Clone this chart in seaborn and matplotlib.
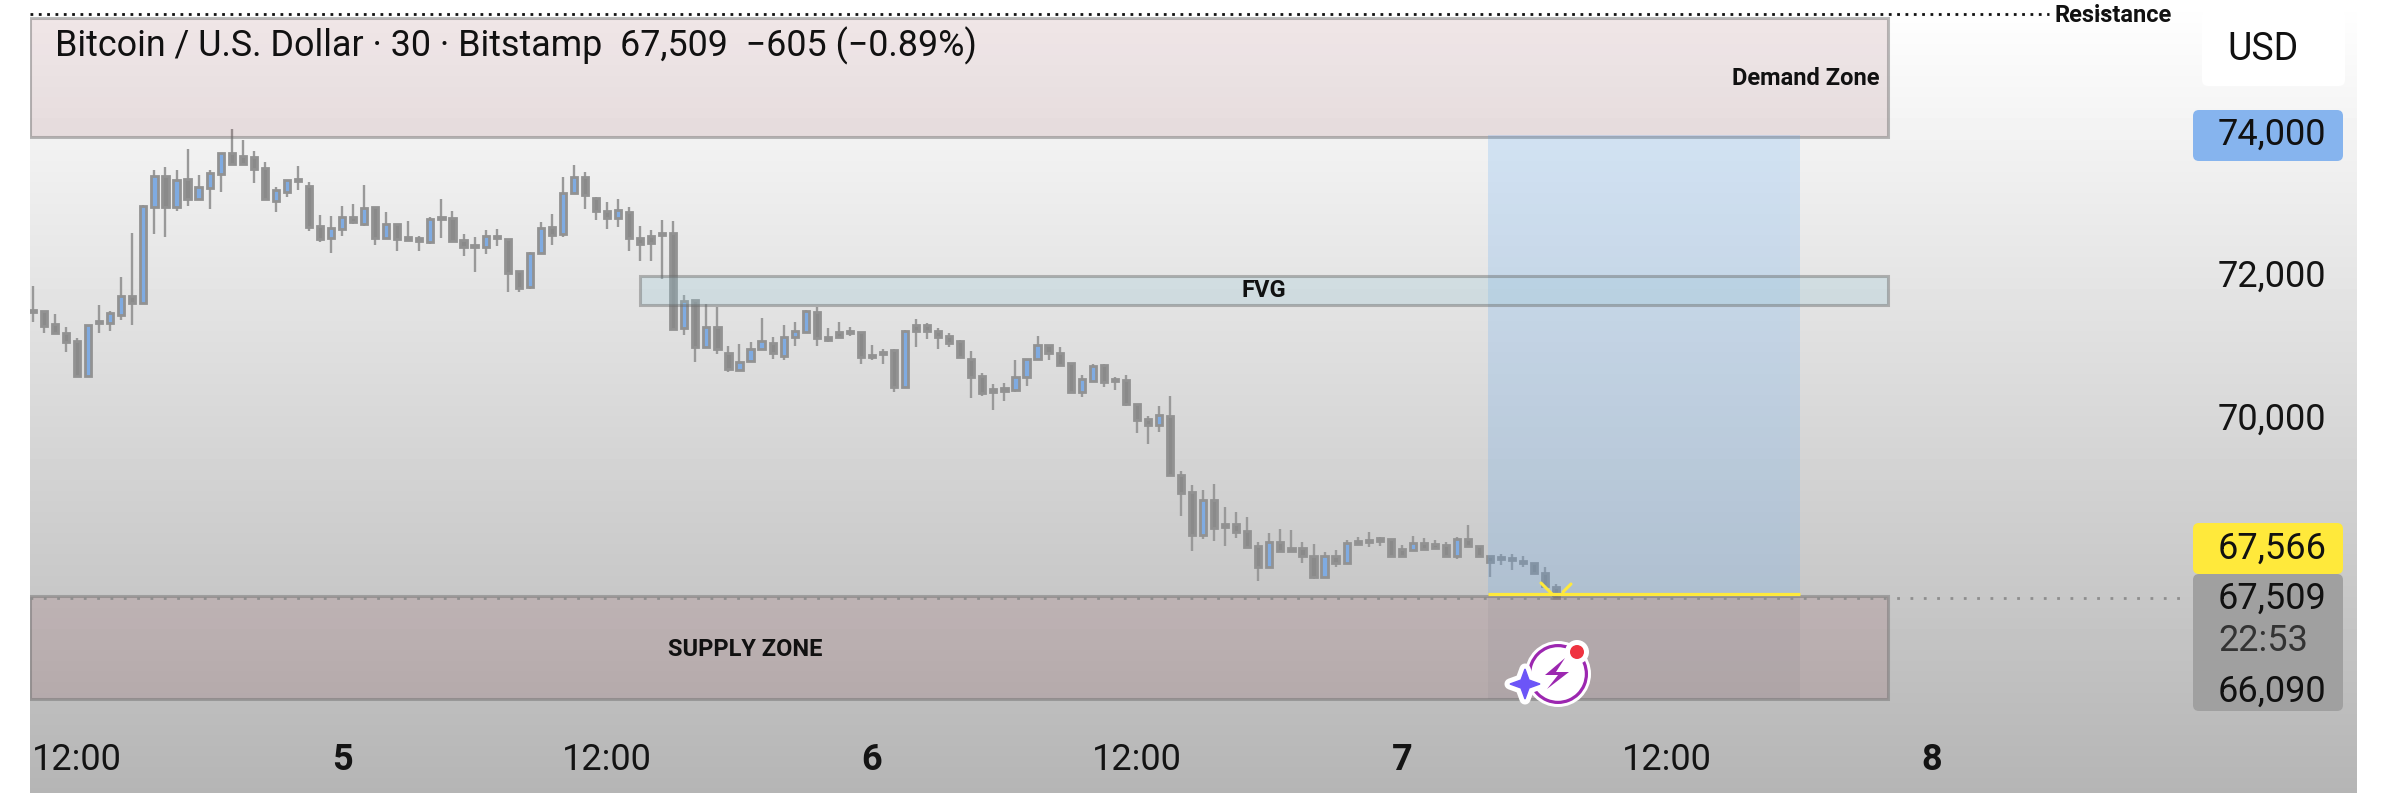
import numpy as np
import pandas as pd
import matplotlib
matplotlib.use("Agg")
import matplotlib.pyplot as plt
from matplotlib.patches import Rectangle, FancyBboxPatch, Circle, Polygon, Wedge
from matplotlib.transforms import ScaledTranslation
import seaborn as sns

# 30 min BTC/USD candles
opens = [71553, 71543, 71352, 71225, 71113, 70627, 71394, 71366, 71478, 71754, 71646, 73002, 73427,
         73002, 73385, 73105, 73268, 73465, 73750, 73708, 73694, 73540, 73086, 73212, 73385, 73287,
         72726, 72567, 72693, 72857, 72759, 73002, 72567, 72754, 72572, 72558, 72506, 72852, 72838,
         72530, 72460, 72432, 72586, 72548, 72099, 71870, 72347, 72712, 72614, 73189, 73413, 73128,
         72936, 72838, 72922, 72558, 72586, 72637, 72628, 71295, 71688, 71029, 71319, 70954, 70716,
         70833, 71001, 71094, 70912, 71169, 71239, 71529, 71169, 71239, 71258, 71239, 70926, 70968,
         70991, 70468, 71337, 71342, 71258, 71183, 71113, 70870, 70627, 70440, 70459, 70431, 70608,
         70870, 71057, 70945, 70814, 70407, 70562, 70781, 70585, 70571, 70230, 70024, 69935, 70061,
         69234, 68996, 68402, 68883, 68547, 68547, 68449, 68238, 67953, 68294, 68210, 68210, 68107,
         67813, 68098, 68009, 68308, 68322, 68350, 68336, 68196, 68191, 68285, 68266, 68252, 68107,
         68336, 68238, 68098, 68089, 68070, 68028, 68000, 67859, 67672]
highs = [71889, 71543, 71497, 71310, 71160, 71347, 71623, 71539, 72011, 72628, 73025, 73516, 73558,
         73516, 73806, 73446, 73516, 73750, 74091, 73937, 73783, 73628, 73273, 73376, 73572, 73348,
         72885, 72871, 73011, 73039, 73306, 73002, 72927, 72754, 72801, 72591, 72857, 73110, 72941,
         72614, 72577, 72675, 72689, 72548, 72104, 72371, 72782, 72899, 73418, 73586, 73488, 73133,
         73063, 73109, 72997, 72726, 72674, 72815, 72801, 71763, 71693, 71637, 71599, 71048, 71076,
         71104, 71436, 71174, 71337, 71380, 71552, 71590, 71295, 71380, 71309, 71239, 71057, 71001,
         71010, 71272, 71422, 71375, 71295, 71225, 71127, 70973, 70664, 70510, 70524, 70851, 70870,
         71188, 71067, 71034, 70814, 70641, 70795, 70795, 70618, 70641, 70234, 70061, 70206, 70347,
         69290, 69098, 69028, 69112, 68790, 68720, 68645, 68294, 68420, 68477, 68467, 68294, 68271,
         68154, 68182, 68327, 68364, 68435, 68364, 68341, 68257, 68383, 68355, 68327, 68294, 68364,
         68537, 68248, 68103, 68131, 68131, 68098, 68009, 67953, 67705]
lows = [71389, 71225, 71225, 70968, 70632, 70618, 71235, 71263, 71412, 71342, 71646, 72619, 72581,
        72946, 73011, 73105, 72969, 73212, 73600, 73596, 73339, 73105, 72932, 73138, 73236, 72665,
        72506, 72352, 72595, 72759, 72731, 72464, 72567, 72380, 72520, 72380, 72483, 72567, 72525,
        72310, 72086, 72343, 72450, 71810, 71810, 71842, 72347, 72464, 72572, 73189, 72969, 72815,
        72689, 72721, 72385, 72244, 72244, 71992, 71291, 71207, 70828, 71029, 70940, 70688, 70692,
        70833, 71001, 70870, 70856, 71048, 71239, 71052, 71108, 71169, 71193, 70800, 70856, 70800,
        70407, 70468, 71038, 71150, 71010, 71038, 70889, 70314, 70351, 70155, 70276, 70407, 70487,
        70870, 70851, 70772, 70403, 70333, 70552, 70473, 70431, 70211, 69828, 69673, 69842, 69234,
        68664, 68177, 68346, 68318, 68243, 68355, 68224, 67757, 67953, 68173, 68154, 68009, 67775,
        67813, 67944, 68000, 68257, 68233, 68248, 68103, 68107, 68187, 68196, 68201, 68103, 68065,
        68233, 68103, 67808, 67976, 67906, 67953, 67855, 67672, 67500]
closes = [71520, 71328, 71225, 71109, 70632, 71338, 71366, 71511, 71754, 71646, 73011, 73427, 73002,
          73376, 73105, 73273, 73469, 73750, 73600, 73596, 73535, 73105, 73236, 73371, 73357, 72721,
          72553, 72698, 72862, 72792, 72979, 72567, 72754, 72544, 72539, 72525, 72834, 72824, 72525,
          72441, 72432, 72586, 72558, 72076, 71866, 72352, 72707, 72609, 73189, 73413, 73161, 72936,
          72838, 72950, 72558, 72483, 72487, 72609, 71291, 71674, 71029, 71319, 71001, 70720, 70828,
          71001, 71122, 70954, 71178, 71263, 71538, 71155, 71132, 71169, 71225, 70898, 70889, 70931,
          70468, 71253, 71253, 71253, 71178, 71094, 70889, 70617, 70393, 70398, 70421, 70608, 70870,
          71062, 70954, 70781, 70407, 70580, 70767, 70548, 70552, 70234, 70010, 69940, 70075, 69234,
          68991, 68402, 68883, 68500, 68514, 68444, 68233, 67953, 68294, 68173, 68177, 68107, 67813,
          68107, 68009, 68280, 68271, 68294, 68318, 68107, 68107, 68290, 68201, 68219, 68107, 68341,
          68238, 68107, 68023, 68056, 68042, 68000, 67859, 67682, 67509]

# axis labels, one candle every 30 min so 48 per day
date_ticks = [4, 28, 52, 76, 100, 124, 148, 172]
date_labels = ["12:00", "5", "12:00", "6", "12:00", "7", "12:00", "8"]
price_ticks = [72000, 70000]
price_labels = ["72,000", "70,000"]

# levels drawn on the chart
resistance = 75703
demand_top, demand_bottom = 75650, 73980
fvg_top, fvg_bottom = 72030, 71623
supply_top, supply_bottom = 67540, 66090
entry_price = 67566
last_price = 67509
target_price = 74000

W, H = 2388, 796
FONT = "Roboto"

sns.set_theme(style="white")
plt.rcParams["font.family"] = [FONT, "DejaVu Sans"]

fig = plt.figure(figsize=(W / 100, H / 100), dpi=100, facecolor="white")


def px_axes(left, top, right, bottom):
    return fig.add_axes([left / W, 1 - bottom / H, (right - left) / W, (bottom - top) / H])


# grey background fade
bg = px_axes(30, 0, 2357, 793)
bg.imshow(np.linspace(255, 181, 256).reshape(-1, 1), cmap="gray", vmin=0, vmax=255,
          aspect="auto", interpolation="bilinear")
bg.axis("off")

# price chart, one x unit is one candle
ax = px_axes(30, 0, 2190, 730)
ax.patch.set_alpha(0)
ax.set_xlim(-0.272, 195.4)
ax.set_ylim(65662, 75900)

df = pd.DataFrame({"idx": range(len(opens)), "open": opens, "high": highs, "low": lows, "close": closes})
wicks = df.melt(id_vars="idx", value_vars=["high", "low"], value_name="price")
sns.lineplot(data=wicks, x="idx", y="price", units="idx", estimator=None, sort=False,
             color="#999999", lw=1.7, solid_capstyle="butt", legend=False, ax=ax, zorder=3)

colors = ["#7fabe2" if c >= o else "#8a8a8a" for o, c in zip(df["open"], df["close"])]
body_low = df[["open", "close"]].min(axis=1)
body_high = df[["open", "close"]].max(axis=1)
ax.bar(df["idx"], body_high - body_low, bottom=body_low, width=0.56, color=colors,
       edgecolor="#929292", linewidth=2.0, zorder=3)

# zones, alpha fill goes over the candles
zone_right = 168.0
blue_left, blue_right = 131.8, 160.05
fvg_left = 55.0
edge = (0.42, 0.42, 0.42, 0.45)


def zone(x0, x1, y0, y1, fill, line=edge, lw=2.2, z=4):
    ax.add_patch(Rectangle((x0, y0), x1 - x0, y1 - y0, facecolor=fill, edgecolor=line, linewidth=lw, zorder=z))


zone(-0.272, zone_right, demand_bottom, demand_top, (0.50, 0.16, 0.20, 0.11))
zone(-0.272, zone_right, supply_bottom, supply_top, (0.50, 0.16, 0.20, 0.13))
zone(blue_left, blue_right, entry_price, target_price, (0.31, 0.63, 0.96, 0.20), line="none", lw=0)
zone(blue_left, blue_right, supply_bottom, entry_price, (0.45, 0.45, 0.50, 0.10), line="none", lw=0)
zone(fvg_left, zone_right, fvg_bottom, fvg_top, (0.59, 0.78, 0.84, 0.25))

sns.lineplot(x=[blue_left, blue_right], y=[entry_price, entry_price], color="#ffe93b", lw=2.3,
             solid_capstyle="butt", ax=ax, zorder=6)
ax.hlines(last_price, -0.272, 195.4, color="#8e8e8e", lw=2.0, linestyles=(0, (1, 3.8)), zorder=5)
ax.hlines(resistance, -0.272, 182.6, color="#111111", lw=2.0, linestyles=(0, (1, 2)), zorder=5)
ax.hlines(resistance, 186.9, 188.0, color="#111111", lw=2.0, linestyles=(0, (1, 2)), zorder=5)

ax.text(zone_right - 0.7, 74800, "Demand Zone", ha="right", va="center", fontsize=17, fontweight="bold",
        color="#111111", zorder=7)
ax.text(111.5, 71830, "FVG", ha="center", va="center", fontsize=17, fontweight="bold", color="#111111", zorder=7)
ax.text(64.5, 66795, "SUPPLY ZONE", ha="center", va="center", fontsize=17, fontweight="bold",
        color="#111111", zorder=7)

# axes ticks
ax.set_xticks(date_ticks)
ax.set_xticklabels(date_labels)
ax.yaxis.tick_right()
ax.set_yticks(price_ticks)
ax.set_yticklabels(price_labels)
ax.tick_params(axis="x", length=0, pad=9, labelsize=26, labelcolor="#141414")
ax.tick_params(axis="y", length=0, pad=20, labelsize=26, labelcolor="#141414")
for label in ax.get_xticklabels():
    if ":" not in label.get_text():
        label.set_fontweight("bold")
for label in ax.get_yticklabels():
    label.set_transform(label.get_transform() + ScaledTranslation(0, 5 / 100, fig.dpi_scale_trans))
ax.set_xlabel("")
ax.set_ylabel("")
sns.despine(ax=ax, left=True, right=True, top=True, bottom=True)

# overlay in pixels for title, badges and the little icon
top = px_axes(0, 0, W, H)
top.set_xlim(0, W)
top.set_ylim(H, 0)
top.patch.set_alpha(0)
top.axis("off")

top.text(55, 46, "Bitcoin / U.S. Dollar \u00b7 30 \u00b7 Bitstamp  67,509  \u2212605 (\u22120.89%)",
         ha="left", va="center", fontsize=25.8, color="#111111")
top.text(2054, 16, "Resistance", ha="left", va="center", fontsize=17, fontweight="bold", color="#111111")


def badge(x0, y0, x1, y1, color):
    top.add_patch(FancyBboxPatch((x0, y0), x1 - x0, y1 - y0, boxstyle="round,pad=0,rounding_size=6",
                                 facecolor=color, edgecolor="none"))


badge(2202, 9, 2345, 86, "white")
top.text(2263, 50, "USD", ha="center", va="center", fontsize=27, color="#111111")
badge(2193, 110, 2343, 161, "#86b4ee")
top.text(2218, 135, f"{target_price:,}", ha="left", va="center", fontsize=26, color="#111111")
badge(2193, 574, 2343, 711, "#a0a0a0")
badge(2193, 523, 2343, 574, "#ffe93b")
top.text(2218, 549, f"{entry_price:,}", ha="left", va="center", fontsize=26, color="#111111")
top.text(2218, 599, f"{last_price:,}", ha="left", va="center", fontsize=26, color="#111111")
top.text(2218, 641, "22:53", ha="left", va="center", fontsize=26, color="#333333")
top.text(2218, 692, f"{supply_bottom:,}", ha="left", va="center", fontsize=26, color="#111111")

# yellow tick marks at the last candle
top.plot([1541, 1552], [583, 594], color="#ffe93b", lw=2.2)
top.plot([1563, 1571], [592, 584], color="#ffe93b", lw=2.2)

# badge icon
top.add_patch(Circle((1558, 674), 33, facecolor="white", edgecolor="none", zorder=8))
top.add_patch(Wedge((1558, 674), 30, 0, 360, width=3.2, facecolor="#9c27b0", edgecolor="none", zorder=8))
top.add_patch(Polygon([(1565, 658), (1545, 675), (1558, 675), (1547, 689), (1569, 672), (1556, 672)],
                      facecolor="#9c27b0", edgecolor="none", zorder=9))
top.add_patch(Circle((1577, 652), 12, facecolor="white", edgecolor="none", zorder=9))
top.add_patch(Circle((1577, 652), 7, facecolor="#ef3340", edgecolor="none", zorder=10))
star = [(1525, 669), (1529, 680), (1540, 684), (1529, 688), (1525, 699), (1521, 688), (1510, 684), (1521, 680)]
top.add_patch(Polygon(star, facecolor="#6c55f7", edgecolor="white", linewidth=8, joinstyle="round", zorder=9))
top.add_patch(Polygon(star, facecolor="#6c55f7", edgecolor="#6c55f7", linewidth=1, zorder=10))

fig.savefig("out.png", dpi=100)
